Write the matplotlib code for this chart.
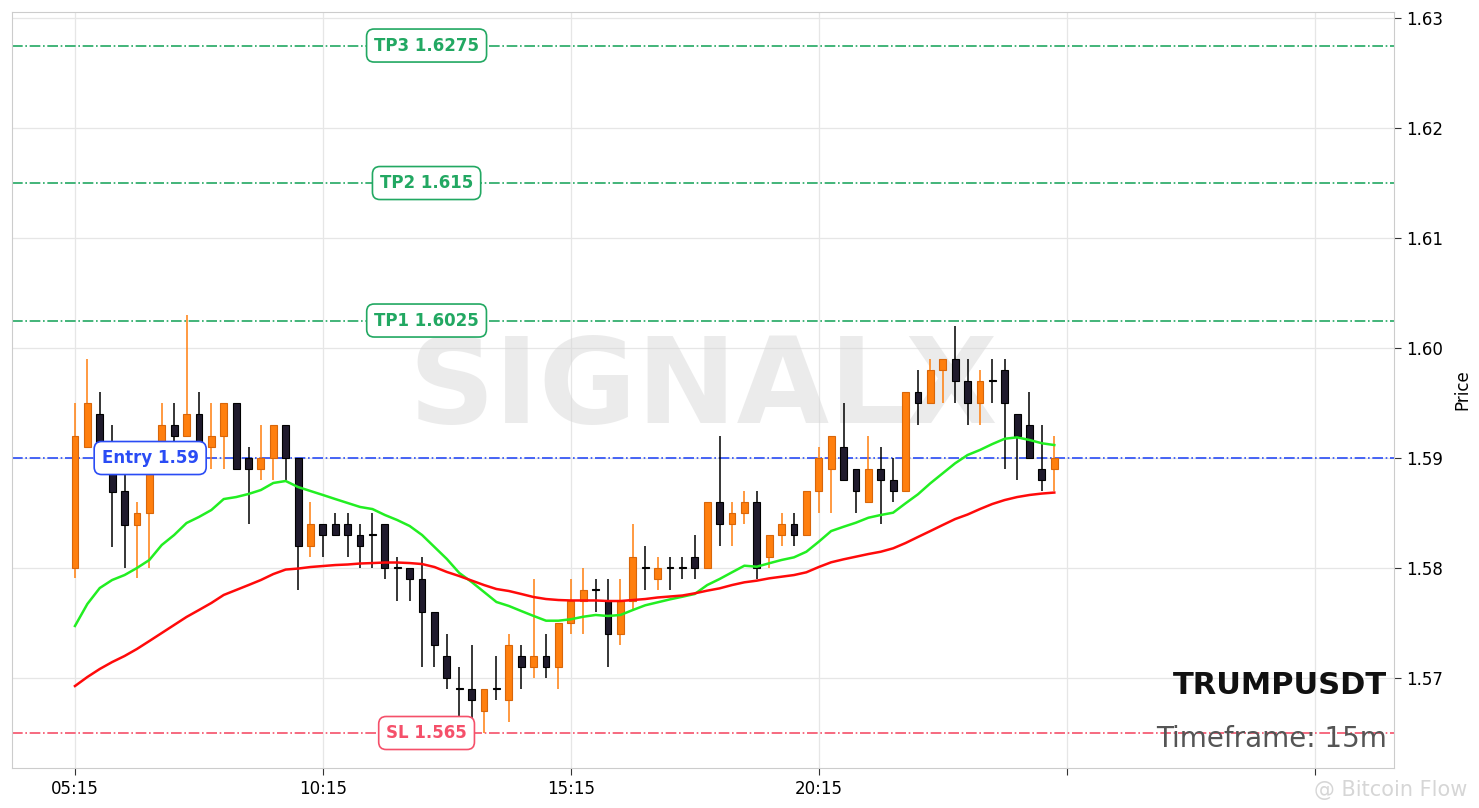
import matplotlib
matplotlib.use('Agg')
import matplotlib.pyplot as plt
import matplotlib.transforms as mtransforms
import numpy as np

# 15m candles, TRUMPUSDT
opens = [1.5800, 1.5910, 1.5940, 1.5895, 1.5870, 1.5839, 1.5850, 1.5890, 1.5930, 1.5920,
         1.5940, 1.5910, 1.5920, 1.5950, 1.5900, 1.5890, 1.5900, 1.5930, 1.5900, 1.5820,
         1.5840, 1.5840, 1.5840, 1.5830, 1.5830, 1.5840, 1.5800, 1.5800, 1.5790, 1.5760,
         1.5720, 1.5690, 1.5690, 1.5670, 1.5690, 1.5680, 1.5720, 1.5710, 1.5720, 1.5710,
         1.5750, 1.5770, 1.5780, 1.5770, 1.5740, 1.5770, 1.5800, 1.5790, 1.5800, 1.5800,
         1.5810, 1.5800, 1.5860, 1.5840, 1.5850, 1.5860, 1.5810, 1.5830, 1.5840, 1.5830,
         1.5870, 1.5890, 1.5910, 1.5890, 1.5860, 1.5890, 1.5880, 1.5870, 1.5960, 1.5950,
         1.5980, 1.5990, 1.5970, 1.5950, 1.5970, 1.5980, 1.5940, 1.5930, 1.5890, 1.5890]
highs = [1.5950, 1.5990, 1.5960, 1.5930, 1.5900, 1.5860, 1.5890, 1.5950, 1.5950, 1.6030,
         1.5960, 1.5950, 1.5950, 1.5950, 1.5910, 1.5930, 1.5930, 1.5930, 1.5900, 1.5860,
         1.5840, 1.5850, 1.5850, 1.5840, 1.5850, 1.5840, 1.5810, 1.5800, 1.5810, 1.5760,
         1.5740, 1.5710, 1.5730, 1.5690, 1.5720, 1.5740, 1.5730, 1.5790, 1.5740, 1.5750,
         1.5790, 1.5800, 1.5790, 1.5790, 1.5790, 1.5840, 1.5820, 1.5810, 1.5810, 1.5810,
         1.5830, 1.5860, 1.5920, 1.5860, 1.5870, 1.5870, 1.5830, 1.5850, 1.5850, 1.5870,
         1.5910, 1.5920, 1.5950, 1.5890, 1.5920, 1.5910, 1.5900, 1.5960, 1.5980, 1.5990,
         1.5990, 1.6020, 1.5990, 1.5980, 1.5990, 1.5990, 1.5940, 1.5960, 1.5930, 1.5920]
lows = [1.5791, 1.5910, 1.5890, 1.5819, 1.5800, 1.5791, 1.5800, 1.5885, 1.5895, 1.5920,
        1.5895, 1.5890, 1.5890, 1.5890, 1.5840, 1.5880, 1.5880, 1.5880, 1.5780, 1.5810,
        1.5810, 1.5830, 1.5810, 1.5800, 1.5800, 1.5790, 1.5770, 1.5770, 1.5710, 1.5710,
        1.5690, 1.5665, 1.5645, 1.5650, 1.5680, 1.5660, 1.5690, 1.5700, 1.5700, 1.5690,
        1.5740, 1.5740, 1.5760, 1.5710, 1.5730, 1.5763, 1.5780, 1.5780, 1.5780, 1.5790,
        1.5790, 1.5800, 1.5820, 1.5820, 1.5840, 1.5790, 1.5800, 1.5820, 1.5820, 1.5830,
        1.5850, 1.5850, 1.5880, 1.5850, 1.5860, 1.5840, 1.5860, 1.5870, 1.5930, 1.5950,
        1.5950, 1.5950, 1.5930, 1.5930, 1.5950, 1.5890, 1.5880, 1.5900, 1.5870, 1.5870]
closes = [1.5920, 1.5950, 1.5895, 1.5869, 1.5839, 1.5850, 1.5890, 1.5930, 1.5920, 1.5940,
          1.5900, 1.5920, 1.5950, 1.5890, 1.5890, 1.5900, 1.5930, 1.5900, 1.5820, 1.5840,
          1.5830, 1.5830, 1.5830, 1.5820, 1.5830, 1.5800, 1.5800, 1.5790, 1.5760, 1.5730,
          1.5700, 1.5690, 1.5680, 1.5690, 1.5690, 1.5730, 1.5710, 1.5720, 1.5710, 1.5750,
          1.5770, 1.5780, 1.5780, 1.5740, 1.5770, 1.5810, 1.5800, 1.5800, 1.5800, 1.5800,
          1.5800, 1.5860, 1.5840, 1.5850, 1.5860, 1.5800, 1.5830, 1.5840, 1.5830, 1.5870,
          1.5900, 1.5920, 1.5880, 1.5870, 1.5890, 1.5880, 1.5870, 1.5960, 1.5950, 1.5980,
          1.5990, 1.5970, 1.5950, 1.5970, 1.5970, 1.5950, 1.5920, 1.5900, 1.5880, 1.5900]

ema_fast = [1.57473, 1.57673, 1.57818, 1.57891, 1.57936, 1.58000, 1.58073, 1.58209, 1.58300, 1.58409,
            1.58464, 1.58527, 1.58627, 1.58645, 1.58673, 1.58709, 1.58773, 1.58791, 1.58736, 1.58700,
            1.58664, 1.58627, 1.58591, 1.58555, 1.58536, 1.58482, 1.58436, 1.58382, 1.58300, 1.58191,
            1.58082, 1.57955, 1.57873, 1.57782, 1.57691, 1.57655, 1.57609, 1.57564, 1.57521, 1.57521,
            1.57534, 1.57557, 1.57573, 1.57564, 1.57573, 1.57618, 1.57661, 1.57688, 1.57715, 1.57739,
            1.57764, 1.57845, 1.57900, 1.57961, 1.58021, 1.58012, 1.58043, 1.58073, 1.58097, 1.58148,
            1.58239, 1.58336, 1.58375, 1.58412, 1.58457, 1.58482, 1.58503, 1.58588, 1.58670, 1.58770,
            1.58861, 1.58952, 1.59027, 1.59073, 1.59127, 1.59175, 1.59188, 1.59164, 1.59134, 1.59118]
ema_slow = [1.56927, 1.57009, 1.57082, 1.57145, 1.57200, 1.57264, 1.57336, 1.57409, 1.57482, 1.57555,
            1.57618, 1.57682, 1.57755, 1.57800, 1.57845, 1.57891, 1.57945, 1.57986, 1.57995, 1.58009,
            1.58018, 1.58027, 1.58032, 1.58041, 1.58045, 1.58050, 1.58050, 1.58045, 1.58036, 1.58009,
            1.57964, 1.57927, 1.57886, 1.57845, 1.57809, 1.57791, 1.57764, 1.57736, 1.57718, 1.57709,
            1.57705, 1.57705, 1.57705, 1.57700, 1.57700, 1.57709, 1.57718, 1.57732, 1.57741, 1.57750,
            1.57770, 1.57794, 1.57815, 1.57845, 1.57870, 1.57885, 1.57906, 1.57921, 1.57936, 1.57961,
            1.58009, 1.58052, 1.58079, 1.58103, 1.58127, 1.58148, 1.58179, 1.58227, 1.58282, 1.58336,
            1.58391, 1.58445, 1.58486, 1.58536, 1.58582, 1.58618, 1.58645, 1.58664, 1.58677, 1.58686]

tick_pos = [0, 20, 40, 60, 80, 100]
tick_labels = ['05:15', '10:15', '15:15', '20:15', '', '']

entry = 1.59
sl = 1.565
tps = [('TP1', 1.6025), ('TP2', 1.615), ('TP3', 1.6275)]

up_col = '#ff7f0e'
up_edge = '#d8660a'
dn_col = '#1f1a2c'

fig = plt.figure(figsize=(14.79, 8.08), dpi=100)
ax = fig.add_axes([0.0081, 0.0495, 0.9344, 0.9356])

x = np.arange(len(closes))
o = np.array(opens)
c = np.array(closes)
h = np.array(highs)
l = np.array(lows)
up = c > o  # doji drawn like down candles

# wicks
ax.vlines(x[up], l[up], h[up], color=up_col, linewidth=1.1, zorder=3)
ax.vlines(x[~up], l[~up], h[~up], color='black', linewidth=1.1, zorder=3)

# bodies (doji get a thin line)
body = np.abs(c - o)
body = np.where(body < 0.0001, 0.00005, body)
bottom = np.minimum(o, c)
ax.bar(x[up], body[up], bottom=bottom[up], width=0.55, color=up_col, edgecolor=up_edge,
       linewidth=0.8, zorder=4)
ax.bar(x[~up], body[~up], bottom=bottom[~up], width=0.55, color=dn_col, edgecolor='black',
       linewidth=0.8, zorder=4)

ax.plot(x, ema_fast, color='#22ee22', linewidth=1.8, zorder=5)
ax.plot(x, ema_slow, color='#ff0a0a', linewidth=1.8, zorder=5)

# levels
trans = mtransforms.blended_transform_factory(ax.transAxes, ax.transData)
green = '#22a862'
box_kw = dict(boxstyle='round,pad=0.45', fc='white', lw=1.2)
for name, lvl in tps:
    ax.axhline(lvl, color=green, linestyle='-.', linewidth=1.2, zorder=2)
    ax.text(0.3, lvl, f'{name} {lvl}', transform=trans, ha='center', va='center',
            fontsize=12, fontweight='bold', color=green, zorder=6,
            bbox=dict(ec=green, **box_kw))
ax.axhline(entry, color='#2a4cf5', linestyle='-.', linewidth=1.2, zorder=2)
ax.text(0.1, entry, f'Entry {entry}', transform=trans, ha='center', va='center',
        fontsize=12, fontweight='bold', color='#2a4cf5', zorder=6,
        bbox=dict(ec='#2a4cf5', **box_kw))
ax.axhline(sl, color='#f5506a', linestyle='-.', linewidth=1.2, zorder=2)
ax.text(0.3, sl, f'SL {sl}', transform=trans, ha='center', va='center',
        fontsize=12, fontweight='bold', color='#f5506a', zorder=6,
        bbox=dict(ec='#f5506a', **box_kw))

# watermark + labels
ax.text(0.5, 0.5, 'SIGNALX', transform=ax.transAxes, ha='center', va='center',
        fontsize=86, fontweight='bold', color='#d8d8d8', alpha=0.5, zorder=1)
ax.text(0.995, 0.098, 'TRUMPUSDT', transform=ax.transAxes, ha='right', va='baseline',
        fontsize=22, fontweight='bold', color='#111111', zorder=7)
ax.text(0.995, 0.028, 'Timeframe: 15m', transform=ax.transAxes, ha='right', va='baseline',
        fontsize=20, color='#555555', zorder=7)
fig.text(0.992, 0.022, '@ Bitcoin Flow', ha='right', va='center', fontsize=15,
         color='#cccccc', alpha=0.8)

ax.set_xlim(-5.08, 106.4)
ax.set_ylim(1.561818, 1.630545)
ax.set_xticks(tick_pos)
ax.set_xticklabels(tick_labels)
ax.set_yticks([1.57, 1.58, 1.59, 1.60, 1.61, 1.62, 1.63])
ax.set_yticklabels(['1.57', '1.58', '1.59', '1.60', '1.61', '1.62', '1.63'])
ax.yaxis.tick_right()
ax.yaxis.set_label_position('right')
ax.set_ylabel('Price', fontsize=12, labelpad=8)
ax.tick_params(labelsize=12, length=5, color='#333333')
ax.grid(True, color='#e6e6e6', linewidth=0.9, zorder=0)
ax.set_axisbelow(True)
for s in ax.spines.values():
    s.set_color('#cccccc')

fig.savefig('out.png', dpi=100)
